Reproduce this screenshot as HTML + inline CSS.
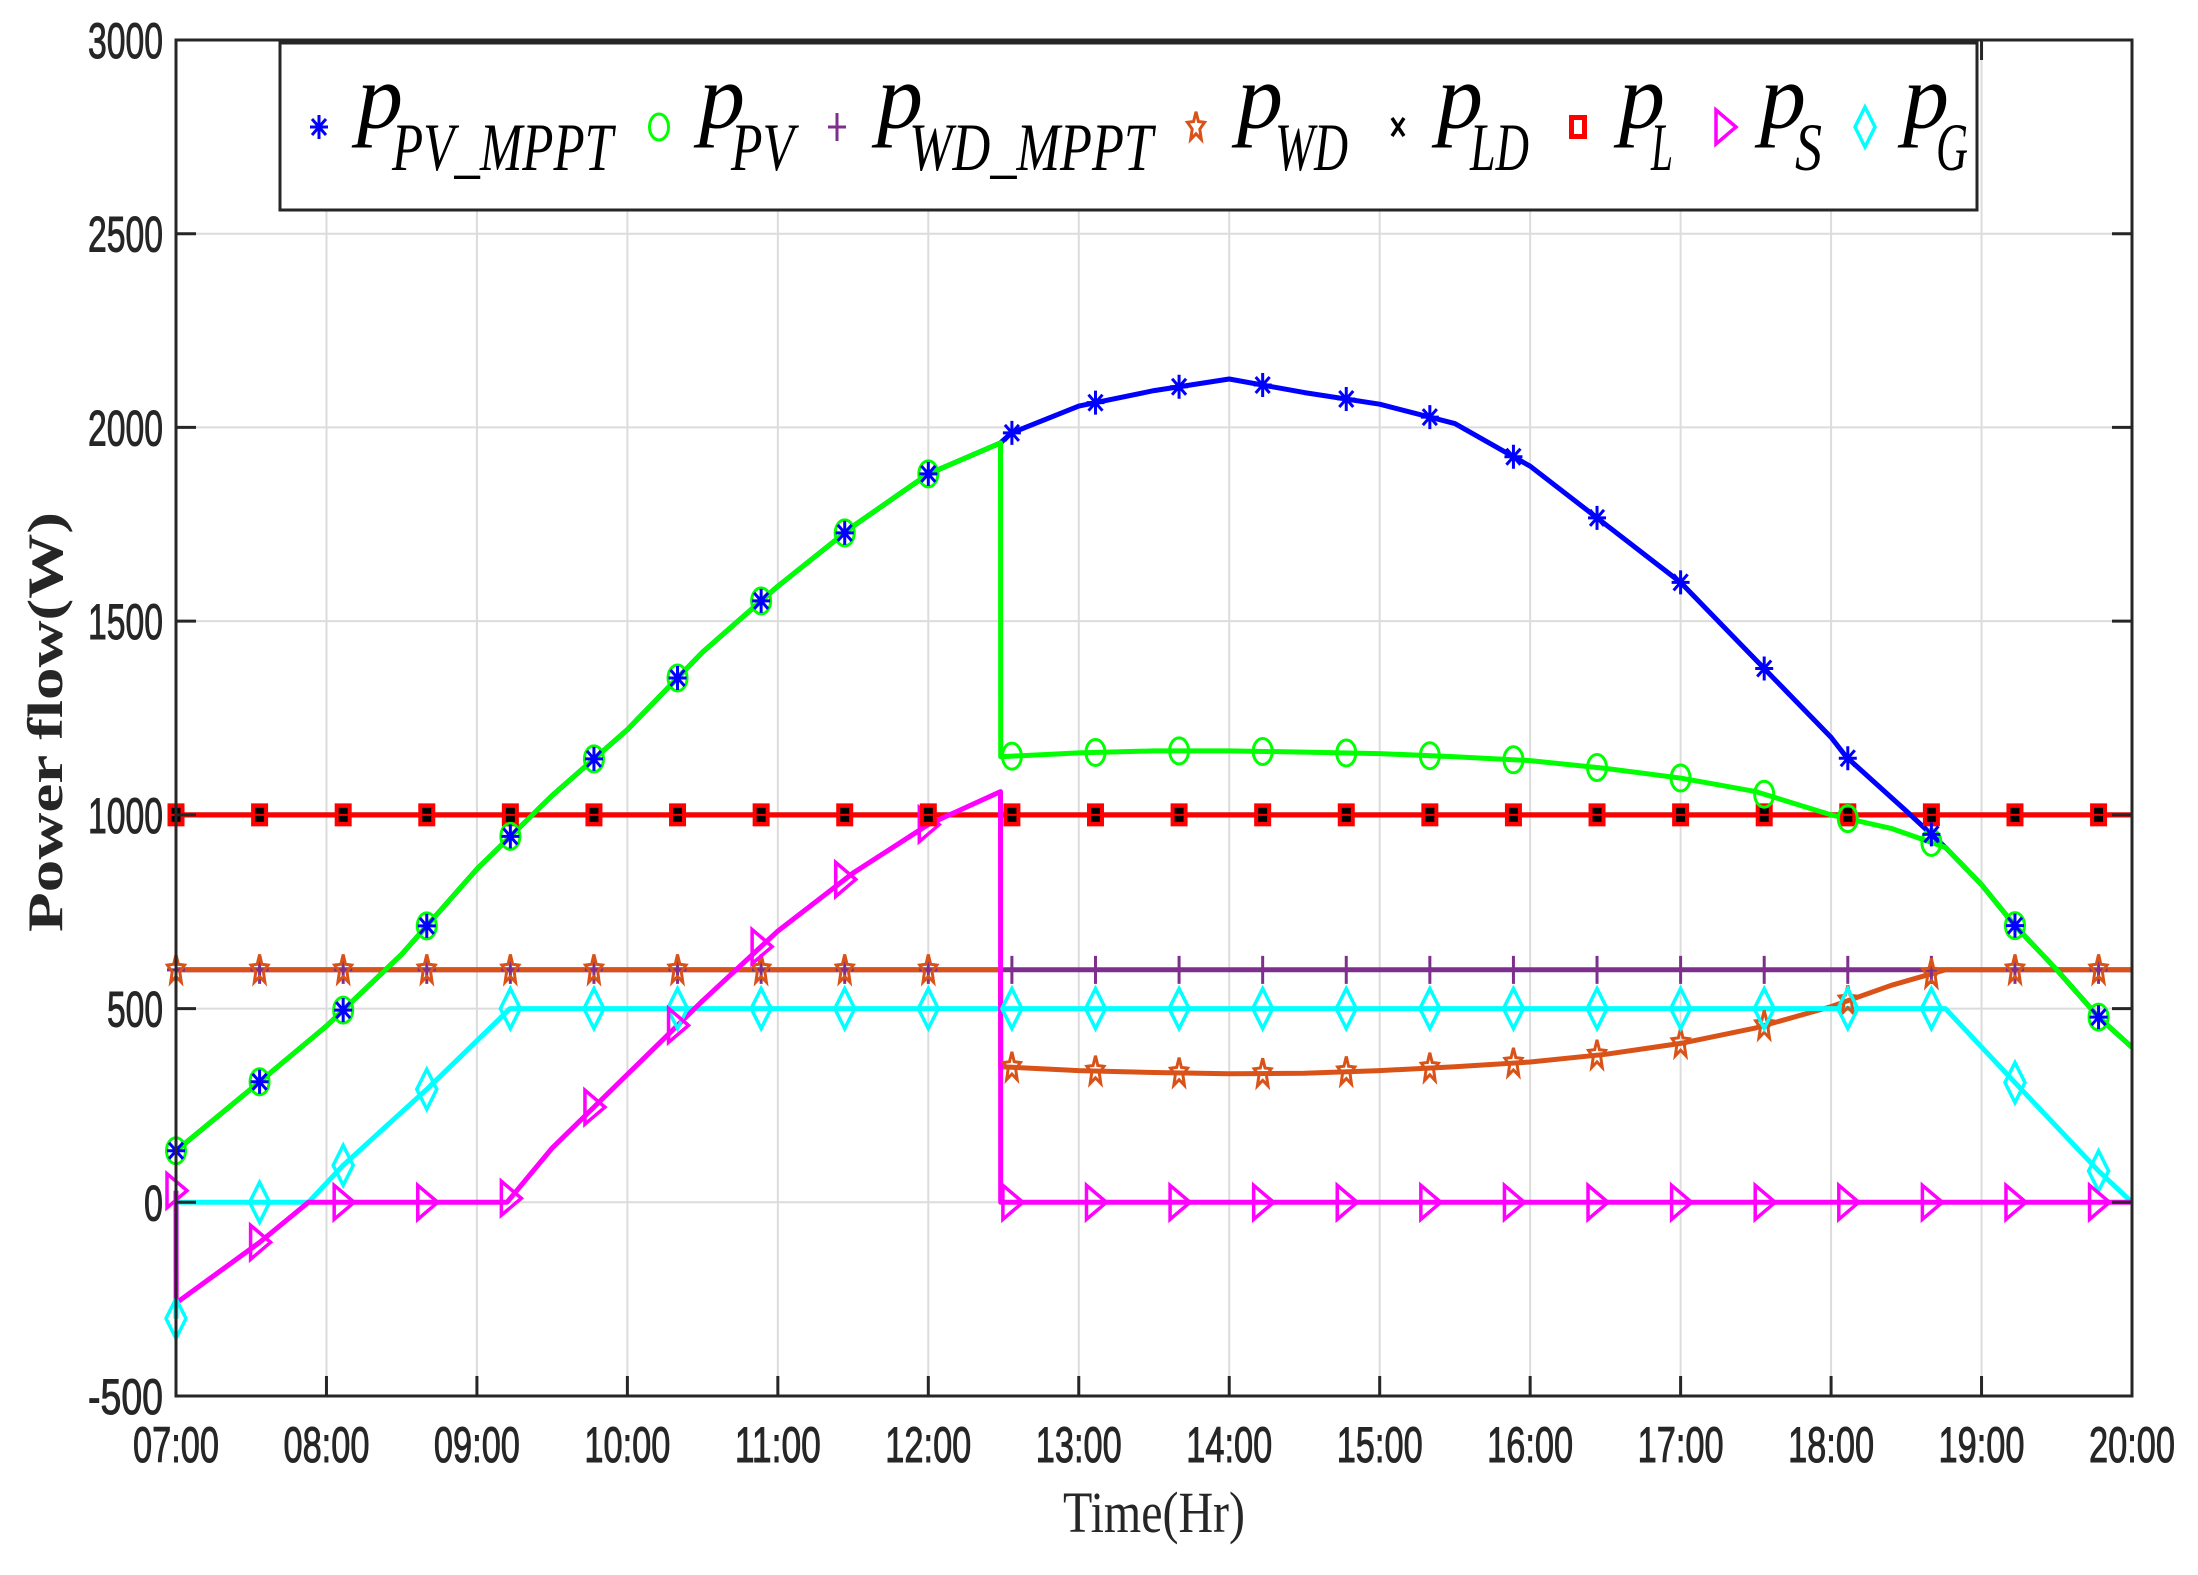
<!DOCTYPE html>
<html><head><meta charset="utf-8"><style>
html,body{margin:0;padding:0;background:#fff;}
svg{display:block;}
</style></head><body>
<svg id="chart" width="2198" height="1575" viewBox="0 0 2198 1575" xmlns="http://www.w3.org/2000/svg">
<rect x="0" y="0" width="2198" height="1575" fill="#fff"/>
<g id="grid"></g>
<g id="series"></g>
<g id="markers"></g>
<g id="axes"></g>
<g id="legend"></g>
</svg>
<script>
// ---- data ----
const xTickLabels = ["07:00","08:00","09:00","10:00","11:00","12:00","13:00","14:00","15:00","16:00","17:00","18:00","19:00","20:00"];
const yTickValues = [-500,0,500,1000,1500,2000,2500,3000];

const mpptT = [7,7.5,8,8.5,9,9.5,10,10.5,11,11.5,12,12.48,12.55,13,13.5,14,14.5,15,15.5,16,16.5,17,17.5,18,18.1,18.5,18.76,19,19.22,19.5,19.78,20];
const mpptV = [133,293,455,640,860,1050,1220,1420,1590,1745,1880,1960,1985,2055,2095,2125,2090,2060,2010,1900,1750,1600,1400,1200,1150,1010,916,820,715,600,477,400];

const pvT = [7,7.5,8,8.5,9,9.5,10,10.5,11,11.5,12,12.48,12.481,13,13.5,14,14.5,15,15.5,16,16.5,17,17.5,18,18.4,18.76,19,19.22,19.5,19.78,20];
const pvV = [133,293,455,640,860,1050,1220,1420,1590,1745,1880,1960,1150,1160,1165,1165,1162,1158,1150,1140,1120,1095,1060,1000,965,916,820,715,600,477,400];

const wdMpptT = [7,20];
const wdMpptV = [600,600];

const wdT = [7,12.48,12.481,13,13.5,14,14.5,15,15.5,16,16.5,17,17.5,18,18.4,18.76,20];
const wdV = [600,600,350,340,335,332,333,340,350,362,382,410,450,505,560,600,600];

const ldT = [7,20];
const ldV = [1000,1000];
const lT = [7,20];
const lV = [1000,1000];

const sT = [7,7.001,7.55,7.88,9.2,9.5,10,10.5,11,11.5,12,12.48,12.481,20];
const sV = [30,-260,-105,0,0,140,330,520,700,850,975,1060,0,0];

const gT = [7,7.001,7.88,8.11,8.67,9.22,18.76,19.22,19.78,20];
const gV = [-300,0,0,95,293,500,500,310,80,0];

// ---- axes functions ----
const X0=176, X1=2132, Y0=40, Y1=1396;
const xs = h => X0 + (h-7)*(X1-X0)/13;
const ys = v => Y0 + (3000-v)*(Y1-Y0)/3500;
const NS="http://www.w3.org/2000/svg";
function mk(tag, attrs, parent){const e=document.createElementNS(NS,tag);for(const k in attrs)e.setAttribute(k,attrs[k]);parent.appendChild(e);return e;}
function interp(T,V,h){for(let i=0;i<T.length-1;i++){if(h>=T[i]&&h<=T[i+1]){const f=(h-T[i])/((T[i+1]-T[i])||1);return V[i]+f*(V[i+1]-V[i]);}}return V[V.length-1];}

const grid=document.getElementById('grid');
for(let i=1;i<13;i++){const l=mk('line',{x1:xs(7+i),x2:xs(7+i),y1:Y0,y2:Y1,stroke:'#dcdcdc','stroke-width':2},grid);

}
yTickValues.forEach(v=>{if(v>-500&&v<3000){const l=mk('line',{x1:X0,x2:X1,y1:ys(v),y2:ys(v),stroke:'#dcdcdc','stroke-width':2},grid);

}});

const seriesG=document.getElementById('series');
function line(T,V,color,name){const d=T.map((t,i)=>(i?'L':'M')+xs(t).toFixed(1)+' '+ys(V[i]).toFixed(1)).join(' ');
const p=mk('path',{d:d,fill:'none',stroke:color,'stroke-width':5,'stroke-linejoin':'round'},seriesG);

}
line(ldT,ldV,'#000','line-p-ld');
line(lT,lV,'#ff0000','line-p-l');
line(wdMpptT,wdMpptV,'#7e2f8e','line-p-wd-mppt');
line(wdT,wdV,'#d95319','line-p-wd');
line(mpptT,mpptV,'#0000ff','line-p-pv-mppt');
line(pvT,pvV,'#00ff00','line-p-pv');
line(gT,gV,'#00ffff','line-p-g');
line(sT,sV,'#ff00ff','line-p-s');

function markerShape(type,x,y,parent,isLegend){
 const g=mk('g',{},parent);
 if(type==='star6'){
  mk('path',{d:`M${x} ${y-12}V${y+12}M${x-9} ${y}H${x+9}M${x-7} ${y-8}L${x+7} ${y+8}M${x-7} ${y+8}L${x+7} ${y-8}`,stroke:'#0000ff','stroke-width':3,fill:'none'},g);
 } else if(type==='circle'){
  mk('ellipse',{cx:x,cy:y,rx:9.5,ry:13,fill:'none',stroke:'#00ff00','stroke-width':3},g);
 } else if(type==='plus'){
  mk('path',{d:`M${x} ${y-14}V${y+14}M${x-9} ${y}H${x+9}`,stroke:'#7e2f8e','stroke-width':3,fill:'none'},g);
 } else if(type==='pent'){
  let pts=[];for(let i=0;i<10;i++){const a=-Math.PI/2+i*Math.PI/5;const r=i%2?4:9;pts.push((x+r*Math.cos(a)).toFixed(1)+','+(y+r*1.7*Math.sin(a)).toFixed(1));}
  mk('polygon',{points:pts.join(' '),fill:'none',stroke:'#d95319','stroke-width':3},g);
 } else if(type==='x'){
  const s=isLegend?6:4, t=isLegend?9:5;
  mk('path',{d:`M${x-s} ${y-t}L${x+s} ${y+t}M${x-s} ${y+t}L${x+s} ${y-t}`,stroke:'#000','stroke-width':3.5},g);
 } else if(type==='square'){
  if(isLegend){
   mk('rect',{x:x-6.5,y:y-9.5,width:13,height:19,fill:'#fff',stroke:'#ff0000','stroke-width':5},g);
  } else {
   mk('rect',{x:x-8.5,y:y-11.5,width:17,height:23,fill:'#ff0000'},g);
   mk('rect',{x:x-4.5,y:y-7,width:9,height:14,fill:'#000'},g);
   mk('line',{x1:x-4.5,x2:x+4.5,y1:y,y2:y,stroke:'#ff0000','stroke-width':2},g);
  }
 } else if(type==='tri'){
  mk('polygon',{points:`${x-9},${y-17} ${x+11},${y} ${x-9},${y+17}`,fill:'none',stroke:'#ff00ff','stroke-width':3.5},g);
 } else if(type==='diamond'){
  mk('polygon',{points:`${x},${y-20} ${x+10},${y} ${x},${y+20} ${x-10},${y}`,fill:'none',stroke:'#00ffff','stroke-width':3.5},g);
 }
 return g;
}
const mG=document.getElementById('markers');
const mTimes=[];for(let k=0;k<24;k++)mTimes.push(7+k*5/9);
function markers(T,V,type,name){mTimes.forEach(h=>{const g=markerShape(type,xs(h),ys(interp(T,V,h)),mG,false);

});}
markers(wdMpptT,wdMpptV,'plus','marker-p-wd-mppt');
markers(wdT,wdV,'pent','marker-p-wd');
markers(gT,gV,'diamond','marker-p-g');
markers(sT,sV,'tri','marker-p-s');
markers(lT,lV,'square','marker-p-l');
markers(pvT,pvV,'circle','marker-p-pv');
markers(mpptT,mpptV,'star6','marker-p-pv-mppt');

const ax=document.getElementById('axes');
const fr=mk('rect',{x:X0,y:Y0,width:X1-X0,height:Y1-Y0,fill:'none',stroke:'#262626','stroke-width':3},ax);


xTickLabels.forEach((lab,i)=>{const x=xs(7+i);
 mk('line',{x1:x,x2:x,y1:Y1,y2:Y1-20,stroke:'#262626','stroke-width':3},ax);
 mk('line',{x1:x,x2:x,y1:Y0,y2:Y0+20,stroke:'#262626','stroke-width':3},ax);
 const t=mk('text',{x:x,y:1462,'text-anchor':'middle','font-family':'Liberation Sans, Arial, sans-serif','font-size':50,fill:'#262626',stroke:'#262626','stroke-width':1,textLength:86,lengthAdjust:'spacingAndGlyphs'},ax);
 t.textContent=lab;
 
 });
yTickValues.forEach(v=>{const y=ys(v);
 mk('line',{x1:X0,x2:X0+20,y1:y,y2:y,stroke:'#262626','stroke-width':3},ax);
 mk('line',{x1:X1,x2:X1-20,y1:y,y2:y,stroke:'#262626','stroke-width':3},ax);
 const s=String(v);
 const t=mk('text',{x:163,y:y+18,'text-anchor':'end','font-family':'Liberation Sans, Arial, sans-serif','font-size':50,fill:'#262626',stroke:'#262626','stroke-width':1,textLength:(s.length*18.7).toFixed(0),lengthAdjust:'spacingAndGlyphs'},ax);
 t.textContent=s;
 
 });
const xt=mk('text',{x:1154,y:1532,'text-anchor':'middle','font-family':'Liberation Serif, serif','font-size':58,fill:'#262626',textLength:182,lengthAdjust:'spacingAndGlyphs'},ax);
xt.textContent='Time(Hr)';


const yt=mk('text',{x:0,y:0,transform:'translate(62,722) rotate(-90)','text-anchor':'middle','font-family':'Liberation Serif, serif','font-weight':'bold','font-size':50,fill:'#262626',textLength:420,lengthAdjust:'spacingAndGlyphs'},ax);
yt.textContent='Power flow(W)';



const lg=document.getElementById('legend');
const lb=mk('rect',{x:280,y:43,width:1697,height:167,fill:'#fff',stroke:'#262626','stroke-width':3},lg);


const entries=[
 ['star6',319,357,'PV_MPPT',392,613,'legend-entry-p-pv-mppt'],
 ['circle',659,699,'PV',731,794,'legend-entry-p-pv'],
 ['plus',837,877,'WD_MPPT',909,1153,'legend-entry-p-wd-mppt'],
 ['pent',1196,1237,'WD',1275,1348,'legend-entry-p-wd'],
 ['x',1398,1437,'LD',1470,1529,'legend-entry-p-ld'],
 ['square',1578,1619,'L',1651,1673,'legend-entry-p-l'],
 ['tri',1725,1760,'S',1795,1822,'legend-entry-p-s'],
 ['diamond',1865,1903,'G',1936,1968,'legend-entry-p-g']];
entries.forEach(e=>{const g=mk('g',{},lg);
 
 
 markerShape(e[0],e[1],127,g,true);
 const p=mk('text',{x:e[2],y:128,'font-family':'Liberation Serif, serif','font-style':'italic','font-size':92,fill:'#000'},g);
 p.textContent='p';
 const s=mk('text',{x:e[4],y:170,'font-family':'Liberation Serif, serif','font-style':'italic','font-size':68,fill:'#000',textLength:e[5]-e[4],lengthAdjust:'spacingAndGlyphs'},g);
 s.textContent=e[3];
});
</script>
</body></html>
